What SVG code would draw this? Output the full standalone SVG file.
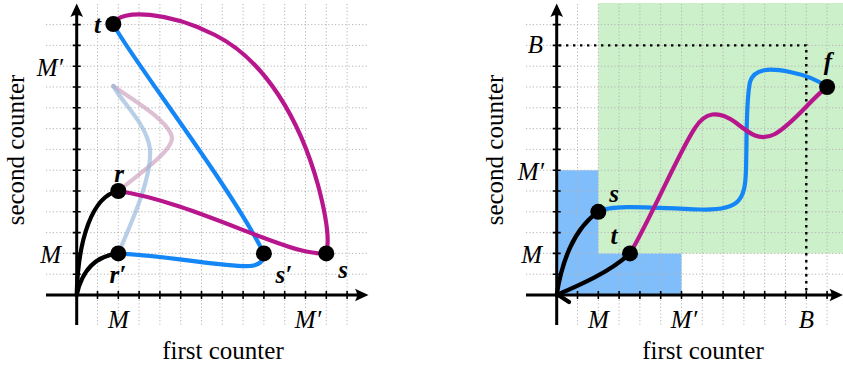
<svg xmlns="http://www.w3.org/2000/svg" width="843" height="368" viewBox="0 0 843 368">
<defs>
<style>
.grid{fill:none;stroke:#b5b5b5;stroke-width:1;stroke-dasharray:1.2 2.2}
.axis{fill:none;stroke:#000;stroke-width:3}
.tick{fill:none;stroke:#000;stroke-width:1.6}
.head{fill:#000;stroke:none}
.lbl{font-family:"Liberation Serif",serif;font-size:25px;font-style:italic;fill:#000}
.nl{font-family:"Liberation Serif",serif;font-size:25px;font-style:italic;font-weight:bold;fill:#000}
.cap{font-family:"Liberation Serif",serif;font-size:25px;fill:#000}
.mag{fill:none;stroke:#b8168c;stroke-width:4.2;stroke-linecap:round}
.blu{fill:none;stroke:#1586f5;stroke-width:4.2;stroke-linecap:round}
.fmag{fill:none;stroke:#c896b8;stroke-width:4.2;stroke-linecap:round;opacity:0.6}
.fblu{fill:none;stroke:#94b6da;stroke-width:4.2;stroke-linecap:round;opacity:0.65}
.blk{fill:none;stroke:#000;stroke-width:4.2;stroke-linecap:round}
.dot{fill:none;stroke:#000;stroke-width:2.4;stroke-dasharray:2.4 4.6}
.node{fill:#000}
</style>
</defs>

<!-- right regions -->
<rect x="598.3" y="3" width="245" height="250.4" fill="#ccf0c9"/>
<polygon points="556.7,170.2 598.3,170.2 598.3,253.4 681.5,253.4 681.5,295 556.7,295" fill="#80bdfb"/>

<!-- grids -->
<path class="grid" d="M46,274.2H368M46,253.4H368M46,232.6H368M46,211.8H368M46,191H368M46,170.2H368M46,149.4H368M46,128.6H368M46,107.8H368M46,87H368M46,66.2H368M46,45.4H368M46,24.6H368
M97.5,4V325M118.3,4V325M139.1,4V325M159.9,4V325M180.7,4V325M201.5,4V325M222.3,4V325M243.1,4V325M263.9,4V325M284.7,4V325M305.5,4V325M326.3,4V325M347.1,4V325"/>
<path class="grid" d="M526,274.2H843M526,253.4H843M526,232.6H843M526,211.8H843M526,191H843M526,170.2H843M526,149.4H843M526,128.6H843M526,107.8H843M526,87H843M526,66.2H843M526,45.4H843M526,24.6H843
M577.5,4V325M598.3,4V325M619.1,4V325M639.9,4V325M660.7,4V325M681.5,4V325M702.3,4V325M723.1,4V325M743.9,4V325M764.7,4V325M785.5,4V325M806.3,4V325M827.1,4V325"/>

<!-- B dotted lines -->
<path class="dot" d="M559,45.4H806.3V295"/>

<!-- axes left -->
<g id="axes-left">
<path class="axis" d="M76.7,325V12M46,295H360"/>
<path class="head" d="M76.7,3.5L83,17Q76.7,13 70.4,17Z"/>
<path class="head" d="M368.5,295L355,288.7Q359,295 355,301.3Z"/>
<path class="tick" d="M72.7,274.2h8M72.7,253.4h8M72.7,232.6h8M72.7,211.8h8M72.7,191h8M72.7,170.2h8M72.7,149.4h8M72.7,128.6h8M72.7,107.8h8M72.7,87h8M72.7,66.2h8M72.7,45.4h8M72.7,24.6h8
M97.5,291v8M118.3,291v8M139.1,291v8M159.9,291v8M180.7,291v8M201.5,291v8M222.3,291v8M243.1,291v8M263.9,291v8M284.7,291v8M305.5,291v8M326.3,291v8M347.1,291v8"/>
<text class="lbl" x="61" y="263" text-anchor="end">M</text>
<text class="lbl" x="63" y="76" text-anchor="end">M′</text>
<text class="lbl" x="118.3" y="328" text-anchor="middle">M</text>
<text class="lbl" x="308" y="328" text-anchor="middle">M′</text>
<text class="cap" x="223" y="359" text-anchor="middle">first counter</text>
<text class="cap" transform="translate(24,150) rotate(-90)" text-anchor="middle">second counter</text>
</g>

<!-- axes right -->
<g id="axes-right">
<path class="axis" d="M556.7,325V12M526,295H835"/>
<path class="head" d="M556.7,3.5L563,17Q556.7,13 550.4,17Z"/>
<path class="head" d="M843,295L829.5,288.7Q833.5,295 829.5,301.3Z"/>
<path class="tick" d="M552.7,274.2h8M552.7,253.4h8M552.7,232.6h8M552.7,211.8h8M552.7,191h8M552.7,170.2h8M552.7,149.4h8M552.7,128.6h8M552.7,107.8h8M552.7,87h8M552.7,66.2h8M552.7,45.4h8M552.7,24.6h8
M577.5,291v8M598.3,291v8M619.1,291v8M639.9,291v8M660.7,291v8M681.5,291v8M702.3,291v8M723.1,291v8M743.9,291v8M764.7,291v8M785.5,291v8M806.3,291v8M827.1,291v8"/>
<text class="lbl" x="542" y="263" text-anchor="end">M</text>
<text class="lbl" x="544" y="180" text-anchor="end">M′</text>
<text class="lbl" x="543" y="53" text-anchor="end">B</text>
<text class="lbl" x="598.3" y="328" text-anchor="middle">M</text>
<text class="lbl" x="684" y="328" text-anchor="middle">M′</text>
<text class="lbl" x="806.3" y="328" text-anchor="middle">B</text>
<text class="cap" x="703" y="359" text-anchor="middle">first counter</text>
<text class="cap" transform="translate(503,150) rotate(-90)" text-anchor="middle">second counter</text>
</g>

<!-- connectors -->
<g id="connectors">
<path class="fmag" d="M118.3,191C145,170 172,150 172,138C170,120 125,95 113.3,86"/>
<path class="fblu" d="M118.3,253.4C135,215 152,175 150,150C148,125 120,100 113.3,86"/>
<path class="blk" d="M76.7,295C78,240 92,196 118.3,191"/>
<path class="blk" d="M76.7,295C82,270 95,256 118.3,253.4"/>
<path class="mag" d="M113.3,24C120,8 170,12 215,35C265,60 300,120 318,185C326,215 330,240 326.3,253.4"/>
<path class="blu" d="M113.3,24C125,50 230,185 263.9,253.4"/>
<path class="mag" d="M118.3,191C180,200 260,240 300,250C315,254 320,253.4 326.3,253.4"/>
<path class="blu" d="M118.3,253.4C170,256 230,268 250,266C260,265 264,260 263.9,253.4"/>

<path class="blk" d="M556.7,295C562,260 575,228 598.3,211.8"/>
<path class="blk" d="M556.7,295C580,285 610,272 630,253.4"/>
<path class="blk" d="M557.5,294.5L569,302"/>
<path class="blu" d="M598.3,211.8C610,205 640,207 700,209.5C740,211 745,200 746,170C747,130 746,100 750,82C754,68 770,68 790,72C805,75 818,80 827.1,87"/>
<path class="mag" d="M630,253.4C650,220 680,150 695,128C705,112 718,110 735,122C750,134 760,142 775,134C795,122 810,100 827.1,87"/>
</g>

<!-- nodes left -->
<g id="node-t-left"><circle class="node" cx="113.3" cy="24" r="8"/><text class="nl" x="97.5" y="33" text-anchor="middle">t</text></g>
<g id="node-r"><circle class="node" cx="118.3" cy="191" r="8"/><text class="nl" x="119" y="182" text-anchor="middle">r</text></g>
<g id="node-rp"><circle class="node" cx="118.3" cy="253.4" r="8"/><text class="nl" x="118" y="283" text-anchor="middle">r′</text></g>
<g id="node-sp"><circle class="node" cx="263.9" cy="253.4" r="8"/><text class="nl" x="284" y="283" text-anchor="middle">s′</text></g>
<g id="node-s-left"><circle class="node" cx="326.3" cy="253.4" r="8"/><text class="nl" x="343" y="278" text-anchor="middle">s</text></g>

<!-- nodes right -->
<g id="node-s-right"><circle class="node" cx="598.3" cy="211.8" r="8"/><text class="nl" x="614" y="202" text-anchor="middle">s</text></g>
<g id="node-t-right"><circle class="node" cx="630" cy="253.4" r="8"/><text class="nl" x="614" y="244" text-anchor="middle">t</text></g>
<g id="node-f"><circle class="node" cx="827.1" cy="87" r="8"/><text class="nl" x="828" y="70" text-anchor="middle">f</text></g>
</svg>
